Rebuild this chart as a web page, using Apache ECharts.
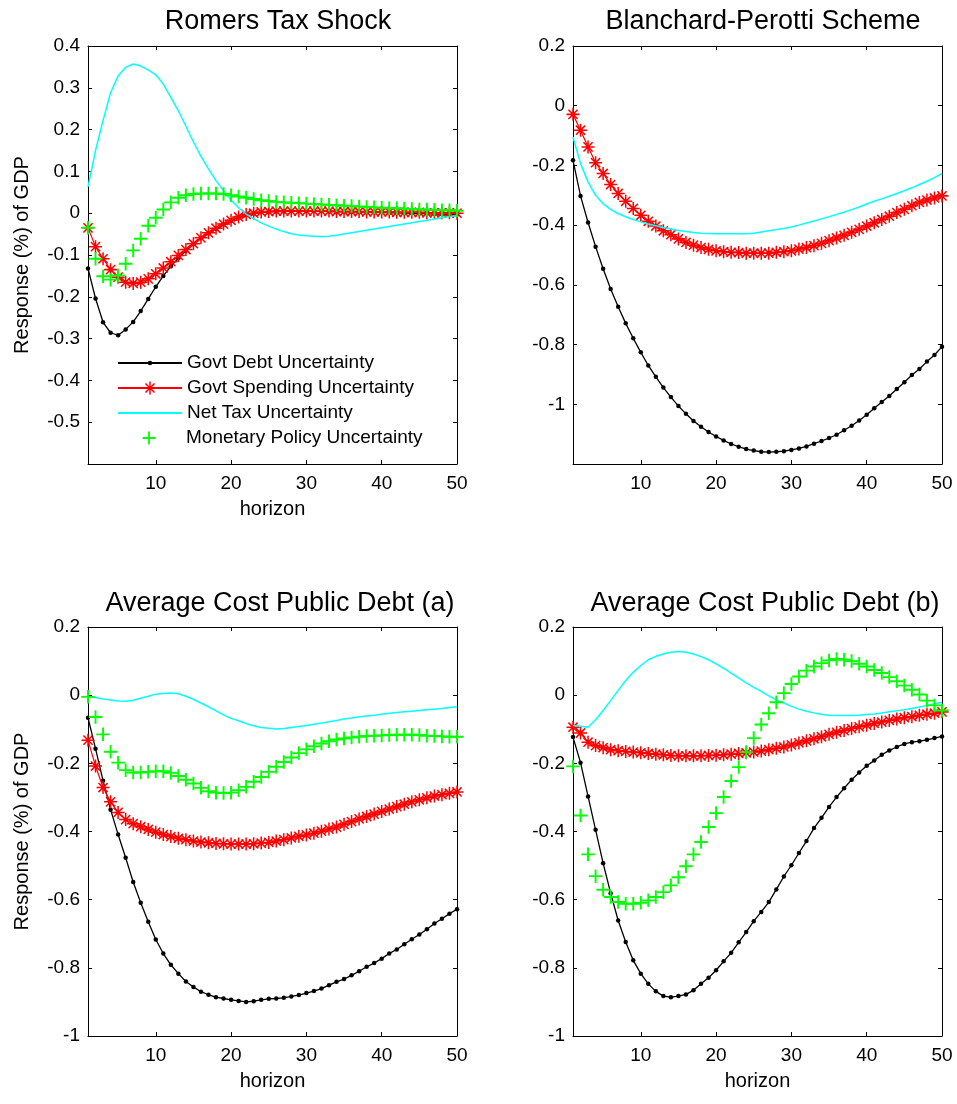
<!DOCTYPE html>
<html><head><meta charset="utf-8">
<script src="https://cdn.jsdelivr.net/npm/echarts@6/dist/echarts.min.js"></script>
<style>html,body{margin:0;padding:0;background:#fff}#c{width:957px;height:1104px}</style>
</head><body><div id="c"></div><script>
// ---------------- DATA ----------------
const horizon = [1,2,3,4,5,6,7,8,9,10,11,12,13,14,15,16,17,18,19,20,21,22,23,24,25,26,27,28,29,30,31,32,33,34,35,36,37,38,39,40,41,42,43,44,45,46,47,48,49,50];
const xTickValues = [10,20,30,40,50];
const seriesNames = ['Govt Debt Uncertainty','Govt Spending Uncertainty','Net Tax Uncertainty','Monetary Policy Uncertainty'];
const panelTitles = ['Romers Tax Shock','Blanchard-Perotti Scheme','Average Cost Public Debt (a)','Average Cost Public Debt (b)'];

// Romers Tax Shock
const romersDebt = [-0.132,-0.204,-0.261,-0.286,-0.292,-0.278,-0.260,-0.234,-0.205,-0.176,-0.150,-0.127,-0.108,-0.090,-0.074,-0.060,-0.048,-0.037,-0.027,-0.018,-0.010,-0.004,-0.001,0.002,0.003,0.004,0.004,0.005,0.005,0.005,0.005,0.005,0.004,0.004,0.004,0.003,0.003,0.003,0.002,0.002,0.001,0.001,0.000,0.000,-0.001,-0.001,-0.002,-0.002,-0.003,-0.003];
const romersSpending = [-0.035,-0.080,-0.109,-0.135,-0.153,-0.165,-0.168,-0.165,-0.157,-0.145,-0.131,-0.116,-0.101,-0.087,-0.073,-0.059,-0.047,-0.036,-0.026,-0.017,-0.009,-0.003,0.000,0.003,0.004,0.005,0.005,0.005,0.005,0.005,0.005,0.005,0.005,0.004,0.004,0.004,0.004,0.003,0.003,0.003,0.003,0.002,0.002,0.002,0.002,0.001,0.001,0.001,0.001,0.000];
const romersTax = [0.063,0.150,0.222,0.288,0.328,0.349,0.357,0.352,0.343,0.331,0.309,0.277,0.245,0.208,0.171,0.136,0.106,0.078,0.054,0.031,0.013,-0.002,-0.013,-0.023,-0.031,-0.038,-0.044,-0.049,-0.052,-0.054,-0.055,-0.056,-0.055,-0.053,-0.050,-0.047,-0.044,-0.041,-0.038,-0.035,-0.032,-0.029,-0.026,-0.023,-0.020,-0.017,-0.014,-0.011,-0.008,-0.006];
const romersMonetary = [-0.035,-0.109,-0.151,-0.159,-0.149,-0.121,-0.089,-0.061,-0.030,-0.011,0.009,0.026,0.037,0.043,0.046,0.047,0.047,0.047,0.046,0.043,0.040,0.037,0.034,0.031,0.029,0.027,0.026,0.025,0.024,0.023,0.022,0.021,0.020,0.019,0.018,0.017,0.016,0.015,0.014,0.013,0.012,0.012,0.011,0.010,0.009,0.009,0.008,0.007,0.007,0.006];

// Blanchard-Perotti Scheme
const bpDebt = [-0.183,-0.302,-0.391,-0.472,-0.546,-0.614,-0.673,-0.729,-0.779,-0.826,-0.870,-0.908,-0.944,-0.976,-1.006,-1.032,-1.056,-1.075,-1.093,-1.108,-1.121,-1.133,-1.142,-1.150,-1.155,-1.159,-1.160,-1.159,-1.157,-1.153,-1.148,-1.141,-1.132,-1.123,-1.113,-1.102,-1.087,-1.072,-1.054,-1.035,-1.013,-0.992,-0.972,-0.949,-0.926,-0.902,-0.882,-0.857,-0.835,-0.807];
const bpSpending = [-0.029,-0.082,-0.138,-0.191,-0.227,-0.264,-0.294,-0.320,-0.344,-0.367,-0.387,-0.403,-0.419,-0.432,-0.446,-0.458,-0.467,-0.475,-0.481,-0.486,-0.489,-0.491,-0.492,-0.494,-0.494,-0.494,-0.494,-0.491,-0.489,-0.486,-0.480,-0.475,-0.469,-0.461,-0.452,-0.443,-0.434,-0.424,-0.414,-0.403,-0.392,-0.381,-0.370,-0.358,-0.347,-0.335,-0.324,-0.316,-0.309,-0.302];
const bpTax = [-0.105,-0.194,-0.255,-0.300,-0.328,-0.347,-0.361,-0.372,-0.381,-0.389,-0.396,-0.402,-0.408,-0.413,-0.418,-0.421,-0.425,-0.427,-0.428,-0.429,-0.429,-0.429,-0.429,-0.429,-0.427,-0.423,-0.419,-0.415,-0.411,-0.406,-0.400,-0.393,-0.386,-0.379,-0.372,-0.364,-0.357,-0.348,-0.339,-0.329,-0.320,-0.312,-0.303,-0.294,-0.285,-0.275,-0.264,-0.253,-0.241,-0.227];

// Average Cost Public Debt (a)
const acpdADebt = [-0.066,-0.157,-0.251,-0.336,-0.409,-0.477,-0.548,-0.609,-0.665,-0.717,-0.758,-0.791,-0.817,-0.840,-0.856,-0.870,-0.879,-0.886,-0.890,-0.894,-0.897,-0.900,-0.898,-0.894,-0.891,-0.890,-0.888,-0.884,-0.880,-0.874,-0.868,-0.861,-0.851,-0.841,-0.833,-0.822,-0.810,-0.797,-0.786,-0.773,-0.758,-0.746,-0.731,-0.716,-0.702,-0.687,-0.670,-0.656,-0.641,-0.628];
const acpdASpending = [-0.132,-0.208,-0.271,-0.313,-0.344,-0.365,-0.377,-0.386,-0.394,-0.402,-0.409,-0.415,-0.420,-0.424,-0.428,-0.431,-0.433,-0.435,-0.436,-0.437,-0.437,-0.437,-0.436,-0.434,-0.432,-0.428,-0.424,-0.419,-0.414,-0.410,-0.405,-0.399,-0.393,-0.387,-0.379,-0.371,-0.363,-0.356,-0.349,-0.341,-0.334,-0.327,-0.320,-0.313,-0.307,-0.301,-0.296,-0.292,-0.288,-0.284];
const acpdATax = [-0.003,-0.007,-0.011,-0.014,-0.017,-0.018,-0.015,-0.009,-0.003,0.003,0.005,0.006,0.004,-0.003,-0.012,-0.023,-0.034,-0.046,-0.058,-0.068,-0.075,-0.083,-0.090,-0.095,-0.097,-0.099,-0.098,-0.095,-0.092,-0.089,-0.085,-0.082,-0.078,-0.074,-0.070,-0.067,-0.063,-0.061,-0.059,-0.056,-0.053,-0.051,-0.049,-0.047,-0.045,-0.043,-0.041,-0.039,-0.036,-0.034];
const acpdAMonetary = [-0.005,-0.064,-0.115,-0.166,-0.198,-0.220,-0.227,-0.227,-0.225,-0.223,-0.223,-0.228,-0.237,-0.248,-0.259,-0.272,-0.282,-0.286,-0.287,-0.286,-0.279,-0.269,-0.254,-0.240,-0.225,-0.210,-0.196,-0.183,-0.170,-0.159,-0.150,-0.142,-0.135,-0.130,-0.127,-0.124,-0.122,-0.120,-0.119,-0.118,-0.117,-0.116,-0.116,-0.116,-0.117,-0.119,-0.120,-0.121,-0.122,-0.122];

// Average Cost Public Debt (b)
const acpdBDebt = [-0.123,-0.198,-0.297,-0.395,-0.493,-0.581,-0.661,-0.724,-0.778,-0.817,-0.847,-0.869,-0.883,-0.886,-0.883,-0.878,-0.866,-0.847,-0.829,-0.807,-0.781,-0.756,-0.725,-0.695,-0.663,-0.636,-0.607,-0.570,-0.532,-0.499,-0.463,-0.428,-0.390,-0.360,-0.328,-0.299,-0.273,-0.248,-0.227,-0.207,-0.192,-0.175,-0.162,-0.152,-0.143,-0.138,-0.135,-0.131,-0.126,-0.121];
const acpdBSpending = [-0.094,-0.111,-0.138,-0.148,-0.154,-0.160,-0.163,-0.165,-0.167,-0.169,-0.171,-0.173,-0.175,-0.177,-0.178,-0.178,-0.178,-0.178,-0.177,-0.176,-0.175,-0.173,-0.171,-0.169,-0.167,-0.164,-0.160,-0.156,-0.152,-0.146,-0.140,-0.134,-0.128,-0.122,-0.115,-0.109,-0.104,-0.098,-0.093,-0.088,-0.083,-0.079,-0.074,-0.070,-0.066,-0.063,-0.059,-0.056,-0.053,-0.049];
const acpdBTax = [-0.089,-0.091,-0.094,-0.072,-0.045,-0.016,0.014,0.043,0.067,0.087,0.104,0.114,0.121,0.126,0.128,0.126,0.121,0.113,0.104,0.092,0.079,0.065,0.051,0.036,0.023,0.011,-0.002,-0.014,-0.023,-0.033,-0.041,-0.047,-0.052,-0.056,-0.059,-0.060,-0.060,-0.060,-0.059,-0.057,-0.055,-0.052,-0.049,-0.046,-0.043,-0.039,-0.035,-0.030,-0.025,-0.021];
const acpdBMonetary = [-0.209,-0.353,-0.467,-0.531,-0.571,-0.592,-0.607,-0.612,-0.612,-0.609,-0.602,-0.592,-0.578,-0.558,-0.534,-0.502,-0.467,-0.431,-0.387,-0.346,-0.299,-0.252,-0.211,-0.167,-0.126,-0.086,-0.053,-0.021,0.006,0.033,0.055,0.072,0.084,0.094,0.102,0.106,0.104,0.100,0.092,0.084,0.074,0.065,0.053,0.041,0.028,0.016,0.002,-0.016,-0.030,-0.045];

// ---------------- LAYOUT / STYLE ----------------
const FONT = '"Liberation Sans", Arial, Helvetica, sans-serif';
const panelData = [
  [romersDebt, romersSpending, romersTax, romersMonetary],
  [bpDebt, bpSpending, bpTax, null],
  [acpdADebt, acpdASpending, acpdATax, acpdAMonetary],
  [acpdBDebt, acpdBSpending, acpdBTax, acpdBMonetary]
];
const grids = [
  {left: 88, top: 46, width: 369, height: 418},
  {left: 573, top: 46, width: 369, height: 418},
  {left: 88, top: 627, width: 369, height: 409},
  {left: 573, top: 627, width: 369, height: 409}
];
const yCfg = [
  {min: -0.6, max: 0.4, interval: 0.1, hideMin: true},
  {min: -1.2, max: 0.2, interval: 0.2, hideMin: true},
  {min: -1, max: 0.2, interval: 0.2, hideMin: false},
  {min: -1, max: 0.2, interval: 0.2, hideMin: false}
];
const titlePos = [[278, 8], [763, 8], [280, 590], [765, 590]];
const showXName = [true, false, true, true];
const showYName = [true, false, true, false];

const ASTERISK = 'path://M5.3,0H6.7V12H5.3Z M0,5.3H12V6.7H0Z M2.255,1.265L10.735,9.745L9.745,10.735L1.265,2.255Z M9.745,1.265L10.735,2.255L2.255,10.735L1.265,9.745Z';
const PLUS = 'path://M5.15,0H6.85V5.15H12V6.85H6.85V12H5.15V6.85H0V5.15H5.15Z';
const styles = [
  {color: '#000000', symbol: 'circle', symbolSize: 4.5, lineWidth: 1.3, lineOpacity: 1, legendH: 5.6},
  {color: '#ff0000', symbol: ASTERISK, symbolSize: 13, lineWidth: 1.2, lineOpacity: 1, legendH: 16},
  {color: '#00ffff', symbol: 'none', symbolSize: 0, lineWidth: 1.5, lineOpacity: 1, legendH: 0.5},
  {color: '#00ff00', symbol: PLUS, symbolSize: 13.5, lineWidth: 0, lineOpacity: 0, legendH: 16}
];
const legendRowsY = [363, 388, 413, 438];

const xAxes = [], yAxes = [], series = [];
grids.forEach((g, i) => {
  const yc = yCfg[i];
  const baseX = {
    gridIndex: i, type: 'value', min: 1, max: 50,
    axisLine: {show: true, onZero: false, lineStyle: {color: '#000', width: 1}},
    axisTick: {show: true, inside: true, length: 4, customValues: xTickValues, lineStyle: {color: '#000', width: 1}},
    splitLine: {show: false}
  };
  xAxes.push(Object.assign({}, baseX, {
    position: 'bottom',
    axisLabel: {show: true, customValues: xTickValues, fontSize: 19, color: '#000', fontFamily: FONT, margin: 10},
    name: showXName[i] ? 'horizon' : '', nameLocation: 'middle', nameGap: 35,
    nameTextStyle: {fontSize: 20, color: '#000', fontFamily: FONT}
  }));
  xAxes.push(Object.assign({}, baseX, {position: 'top', axisLabel: {show: false}}));
  const baseY = {
    gridIndex: i, type: 'value', min: yc.min, max: yc.max, interval: yc.interval,
    axisLine: {show: true, onZero: false, lineStyle: {color: '#000', width: 1}},
    axisTick: {show: true, inside: true, length: 4, lineStyle: {color: '#000', width: 1}},
    splitLine: {show: false}
  };
  yAxes.push(Object.assign({}, baseY, {
    position: 'left',
    axisLabel: {show: true, fontSize: 19, color: '#000', fontFamily: FONT, margin: 8,
      formatter: v => (yc.hideMin && Math.abs(v - yc.min) < 1e-9) ? '' : String(parseFloat(v.toFixed(2)))},
    name: showYName[i] ? 'Response (%) of GDP' : '', nameLocation: 'middle', nameGap: 56, nameRotate: 90,
    nameTextStyle: {fontSize: 20, color: '#000', fontFamily: FONT}
  }));
  yAxes.push(Object.assign({}, baseY, {position: 'right', axisLabel: {show: false}}));

  panelData[i].forEach((arr, j) => {
    if (!arr) return;
    const s = styles[j];
    series.push({
      type: 'line', name: seriesNames[j], xAxisIndex: 2 * i, yAxisIndex: 2 * i,
      data: horizon.map((h, k) => [h, arr[k]]),
      symbol: s.symbol, symbolSize: s.symbolSize, showSymbol: s.symbol !== 'none',
      color: s.color,
      itemStyle: {color: s.color, borderWidth: 0},
      lineStyle: {color: s.color, width: s.lineWidth, opacity: s.lineOpacity},
      silent: true, animation: false, z: 2 + j
    });
  });
});

const legends = seriesNames.map((name, j) => ({
  data: [name], orient: 'vertical', left: 117, top: legendRowsY[j] - 9.5, padding: 0,
  itemWidth: 64, itemHeight: styles[j].legendH, itemGap: 0, selectedMode: false,
  textStyle: {fontSize: 19, color: '#000', fontFamily: FONT, lineHeight: 19},
  lineStyle: j === 3 ? {opacity: 0, width: 0} : {}
}));

const titles = panelTitles.map((t, i) => ({
  text: t, left: titlePos[i][0], top: titlePos[i][1], textAlign: 'center', padding: 0,
  textStyle: {fontSize: 27, fontWeight: 'normal', color: '#000', fontFamily: FONT}
}));

const chart = echarts.init(document.getElementById('c'), null, {renderer: 'canvas'});
chart.setOption({
  backgroundColor: '#ffffff',
  animation: false,
  title: titles,
  legend: legends,
  grid: grids,
  xAxis: xAxes,
  yAxis: yAxes,
  series: series
});
</script></body></html>
